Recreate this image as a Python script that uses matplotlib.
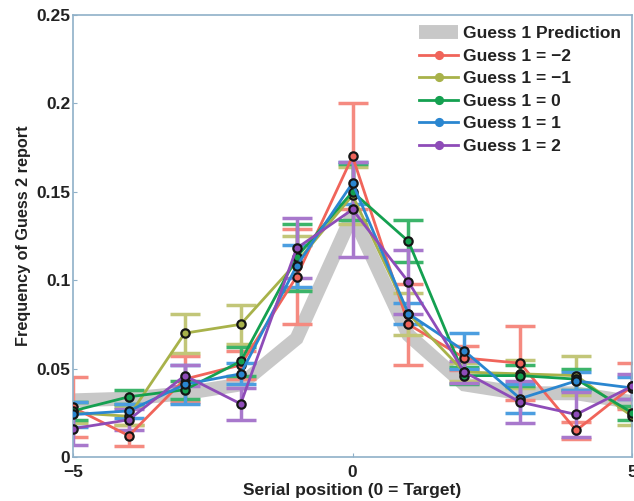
import matplotlib
matplotlib.use("Agg")
import matplotlib.pyplot as plt
import numpy as np

# serial positions
positions = [-5, -4, -3, -2, -1, 0, 1, 2, 3, 4, 5]

# Guess 1 prediction (gray band)
prediction = [0.032, 0.033, 0.036, 0.041, 0.067, 0.137, 0.069, 0.041, 0.036, 0.036, 0.031]

labels = ["Guess 1 = \u22122", "Guess 1 = \u22121", "Guess 1 = 0", "Guess 1 = 1", "Guess 1 = 2"]

red_vals = [0.028, 0.012, 0.044, 0.052, 0.102, 0.170, 0.075, 0.056, 0.053, 0.015, 0.040]
red_err = [0.017, 0.006, 0.013, 0.008, 0.027, 0.030, 0.023, 0.007, 0.021, 0.005, 0.013]
olive_vals = [0.025, 0.023, 0.070, 0.075, 0.110, 0.148, 0.081, 0.048, 0.047, 0.046, 0.023]
olive_err = [0.006, 0.005, 0.011, 0.011, 0.015, 0.016, 0.012, 0.005, 0.008, 0.011, 0.005]
green_vals = [0.026, 0.034, 0.038, 0.054, 0.113, 0.150, 0.122, 0.046, 0.046, 0.044, 0.025]
green_err = [0.005, 0.004, 0.005, 0.008, 0.019, 0.016, 0.012, 0.005, 0.006, 0.006, 0.004]
blue_vals = [0.024, 0.026, 0.041, 0.047, 0.108, 0.155, 0.081, 0.060, 0.033, 0.043, 0.039]
blue_err = [0.007, 0.004, 0.011, 0.006, 0.012, 0.012, 0.006, 0.010, 0.008, 0.005, 0.006]
purple_vals = [0.016, 0.021, 0.046, 0.030, 0.118, 0.140, 0.099, 0.048, 0.031, 0.024, 0.040]
purple_err = [0.009, 0.006, 0.006, 0.009, 0.017, 0.027, 0.018, 0.006, 0.012, 0.013, 0.007]

series = [
    (red_vals, red_err, "#f0645a", "#f58a80"),
    (olive_vals, olive_err, "#a8b24a", "#c2c678"),
    (green_vals, green_err, "#14a050", "#3cb46a"),
    (blue_vals, blue_err, "#2a86d0", "#4c9ee0"),
    (purple_vals, purple_err, "#8e4cb8", "#a878cc"),
]

plt.rcParams["font.family"] = ["Liberation Sans", "DejaVu Sans"]
plt.rcParams["font.weight"] = "bold"

fig = plt.figure(figsize=(6.34, 5.01), dpi=100)
ax = fig.add_axes([0.115, 0.088, 0.882, 0.882])

ax.plot(positions, prediction, color="#c8c8c8", linewidth=10, solid_joinstyle="miter",
        solid_capstyle="butt", zorder=1, label="Guess 1 Prediction")

for (vals, err, col, ecol), lab in zip(series, labels):
    ax.errorbar(positions, vals, yerr=err, fmt="none", ecolor=ecol, elinewidth=2.5,
                capsize=11, capthick=2.5, zorder=2)
    ax.plot(positions, vals, color=col, linewidth=2, zorder=3, label=lab,
            marker="o", markersize=6, markerfacecolor=col, markeredgecolor="#151515",
            markeredgewidth=1.6)

ax.set_xlim(-5, 5)
ax.set_ylim(0, 0.25)
ax.set_xticks([-5, 0, 5])
ax.set_xticklabels(["\u22125", "0", "5"])
ax.set_yticks([0, 0.05, 0.1, 0.15, 0.2, 0.25])
ax.set_yticklabels(["0", "0.05", "0.1", "0.15", "0.2", "0.25"])
ax.tick_params(direction="in", length=3, color="#8fb0c8", labelsize=12.5,
               labelcolor="#222222", pad=2)
ax.tick_params(axis="x", pad=6)
for s in ax.spines.values():
    s.set_color("#8fb0c8")
    s.set_linewidth(1.2)

ax.set_xlabel("Serial position (0 = Target)", fontsize=12.5, fontweight="bold",
              color="#222222", labelpad=2)
ax.set_ylabel("Frequency of Guess 2 report", fontsize=11.7, fontweight="bold",
              color="#222222", labelpad=4)

handles, labs = ax.get_legend_handles_labels()
leg = ax.legend(handles, labs, loc="upper right", frameon=True, fontsize=12.5,
                handlelength=2.2, labelspacing=0.42, borderaxespad=0.3,
                handletextpad=0.3, borderpad=0.35)
leg.get_frame().set_edgecolor("white")
leg.get_frame().set_facecolor("white")
leg.get_frame().set_alpha(1)
for h in leg.legend_handles[1:]:
    h.set_markeredgecolor(h.get_color())
    h.set_markersize(5)
leg.legend_handles[0].set_linewidth(10)
for t in leg.get_texts():
    t.set_color("#222222")

fig.savefig("out.png", dpi=100, facecolor="white")
